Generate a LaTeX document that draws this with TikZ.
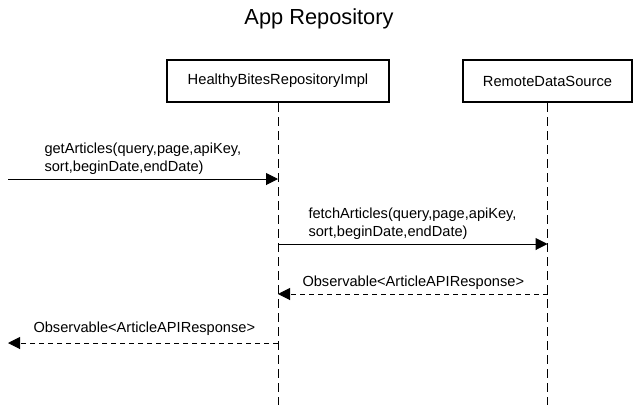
\documentclass[tikz,border=0pt]{standalone}
\usepackage{fontspec}
\setmainfont{Liberation Sans}
\usetikzlibrary{arrows.meta}
\begin{document}
\begin{tikzpicture}[x=1pt,y=-1pt,
  actor/.style={draw,line width=2.5pt,minimum width=222pt,minimum height=42pt,font=\fontsize{14.7}{17}\selectfont,inner sep=0pt},
  life/.style={line width=1pt,dash pattern=on 9pt off 5pt},
  msg/.style={line width=1pt,-{Triangle[length=12pt,width=12pt]}},
  ret/.style={line width=1pt,dash pattern=on 5pt off 4pt,-{Triangle[length=12pt,width=12pt]}},
  lbl/.style={font=\fontsize{14.6}{18}\selectfont,align=left,inner sep=0pt,anchor=south west}]
\useasboundingbox (0,0) rectangle (639,405);
\node[font=\fontsize{21.8}{26}\selectfont] (title) at (319,19) {App Repository};
\node[actor] (A) at (278,81) {HealthyBitesRepositoryImpl};
\node[actor,minimum width=169pt] (B) at (547.5,81) {RemoteDataSource};
\coordinate (Aend) at (278,405);
\coordinate (Bend) at (547.5,405);
\draw[life] (A.south) -- (Aend);
\draw[life] (B.south) -- (Bend);
\coordinate (s1) at (8,179);
\coordinate (a1) at (278,179);
\draw[msg] (s1) -- (a1) node[lbl] (l1) at (44,175) {getArticles(query,page,apiKey,\\sort,beginDate,endDate)};
\coordinate (a2) at (278,244);
\coordinate (b2) at (547.5,244);
\draw[msg] (a2) -- (b2) node[lbl] (l2) at (308,240) {fetchArticles(query,page,apiKey,\\sort,beginDate,endDate)};
\coordinate (b3) at (547.5,294);
\coordinate (a3) at (278,294);
\draw[ret] (b3) -- (a3) node[lbl] (l3) at (302,290) {Observable<ArticleAPIResponse>};
\coordinate (a4) at (278,343);
\coordinate (e4) at (8,343);
\draw[ret] (a4) -- (e4) node[lbl] (l4) at (33,336) {Observable<ArticleAPIResponse>};
\end{tikzpicture}
\end{document}
